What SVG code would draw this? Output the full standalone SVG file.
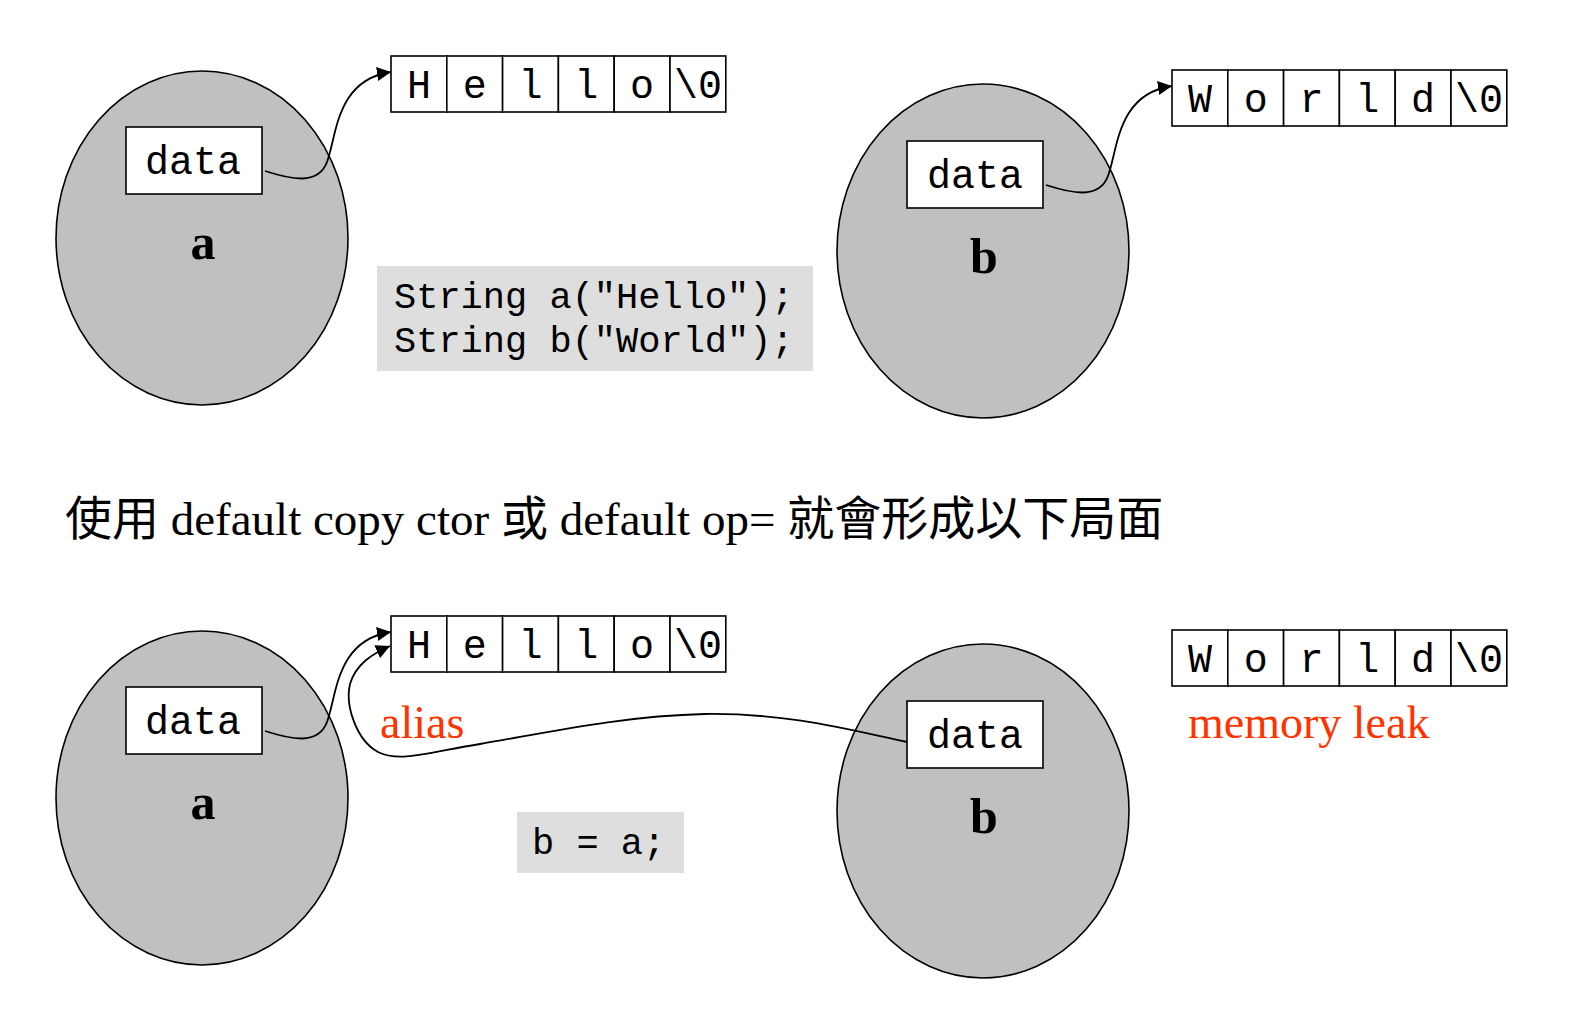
<svg xmlns="http://www.w3.org/2000/svg" width="1580" height="1036" viewBox="0 0 1580 1036">
<style>
.obj{fill:#c0c0c0;stroke:#000;stroke-width:1.6}
.box{fill:#fff;stroke:#000;stroke-width:1.6}
.cell{fill:#fff;stroke:#000;stroke-width:1.6}
.mono{font-family:"Liberation Mono","DejaVu Sans Mono",monospace;fill:#000}
.dt{font-size:40px;text-anchor:middle}
.ch{font-size:40px;text-anchor:middle}
.code{font-size:37px}
.lbl{font-family:"Liberation Serif","DejaVu Serif",serif;font-weight:bold;font-size:50px;text-anchor:middle;fill:#000}
.red{font-family:"Liberation Serif","DejaVu Serif",serif;font-size:46px;fill:#ff3300}
.title{font-family:"Liberation Serif","Noto Sans CJK TC",serif;font-size:47px;fill:#000}
.codebg{fill:#dedede}
.wire{fill:none;stroke:#000;stroke-width:1.8}
</style>
<defs>
<marker id="arr" viewBox="0 0 10 10" refX="10" refY="5" markerWidth="14" markerHeight="14" markerUnits="userSpaceOnUse" orient="auto">
<path d="M0,0 L10,5 L0,10 z" fill="#000"/>
</marker>
<g id="hello">
<rect class="cell" x="0" y="0" width="55.8" height="56"/>
<rect class="cell" x="55.8" y="0" width="55.8" height="56"/>
<rect class="cell" x="111.6" y="0" width="55.8" height="56"/>
<rect class="cell" x="167.4" y="0" width="55.8" height="56"/>
<rect class="cell" x="223.2" y="0" width="55.8" height="56"/>
<rect class="cell" x="279" y="0" width="55.8" height="56"/>
<text class="mono ch" x="27.9" y="42">H</text>
<text class="mono ch" x="83.7" y="42">e</text>
<text class="mono ch" x="139.5" y="42">l</text>
<text class="mono ch" x="195.3" y="42">l</text>
<text class="mono ch" x="251.1" y="42">o</text>
<text class="mono ch" x="306.9" y="42">\0</text>
</g>
<g id="world">
<rect class="cell" x="0" y="0" width="55.8" height="56"/>
<rect class="cell" x="55.8" y="0" width="55.8" height="56"/>
<rect class="cell" x="111.6" y="0" width="55.8" height="56"/>
<rect class="cell" x="167.4" y="0" width="55.8" height="56"/>
<rect class="cell" x="223.2" y="0" width="55.8" height="56"/>
<rect class="cell" x="279" y="0" width="55.8" height="56"/>
<text class="mono ch" x="27.9" y="42">W</text>
<text class="mono ch" x="83.7" y="42">o</text>
<text class="mono ch" x="139.5" y="42">r</text>
<text class="mono ch" x="195.3" y="42">l</text>
<text class="mono ch" x="251.1" y="42">d</text>
<text class="mono ch" x="306.9" y="42">\0</text>
</g>
</defs>
<rect width="1580" height="1036" fill="#fff"/>

<!-- top scene -->
<g id="top-a">
<ellipse class="obj" cx="202" cy="238" rx="146" ry="167"/>
<rect class="box" x="126" y="127" width="136" height="67"/>
<text class="mono dt" x="193" y="174">data</text>
<text class="lbl" x="203" y="259">a</text>
</g>
<g id="top-hello"><use href="#hello" x="391" y="56"/></g>
<g id="top-b">
<ellipse class="obj" cx="983" cy="251" rx="146" ry="167"/>
<rect class="box" x="907" y="141" width="136" height="67"/>
<text class="mono dt" x="975" y="188">data</text>
<text class="lbl" x="984" y="273">b</text>
</g>
<g id="top-world"><use href="#world" x="1172" y="70"/></g>
<g id="top-code">
<rect class="codebg" x="377" y="266" width="436" height="105"/>
<text class="mono code" x="394" y="308">String a("Hello");</text>
<text class="mono code" x="394" y="352">String b("World");</text>
</g>

<!-- title -->
<g id="title">
<text class="title" x="65" y="535">使用 default copy ctor 或 default op= 就會形成以下局面</text>
</g>

<!-- bottom scene -->
<g id="bot-a">
<ellipse class="obj" cx="202" cy="798" rx="146" ry="167"/>
<rect class="box" x="126" y="687" width="136" height="67"/>
<text class="mono dt" x="193" y="734">data</text>
<text class="lbl" x="203" y="819">a</text>
</g>
<g id="bot-hello"><use href="#hello" x="391" y="616"/></g>
<g id="bot-b">
<ellipse class="obj" cx="983" cy="811" rx="146" ry="167"/>
<rect class="box" x="907" y="701" width="136" height="67"/>
<text class="mono dt" x="975" y="748">data</text>
<text class="lbl" x="984" y="833">b</text>
</g>
<g id="bot-world"><use href="#world" x="1172" y="630"/></g>
<g id="bot-code">
<rect class="codebg" x="517" y="812" width="167" height="61"/>
<text class="mono code" x="532" y="854">b = a;</text>
</g>
<text class="red" x="380" y="738">alias</text>
<text class="red" x="1188" y="738">memory leak</text>

<g id="connectors">
<path class="wire" marker-end="url(#arr)" d="M265,171 C290,179 318,186 327,162 C337,135 336,80 391,72"/>
<path class="wire" marker-end="url(#arr)" d="M1046,185 C1071,193 1099,200 1108,176 C1118,149 1117,94 1172,86"/>
<path class="wire" marker-end="url(#arr)" d="M265,731 C290,739 318,746 327,722 C337,695 336,640 391,632"/>
<path class="wire" marker-end="url(#arr)" d="M907,742 C850,730 790,713 705,714 C620,716 545,733 480,744 C430,752 400,763 378,752 C356,740 345,705 350,684 C356,664 372,654 390,646"/>
</g>
</svg>
